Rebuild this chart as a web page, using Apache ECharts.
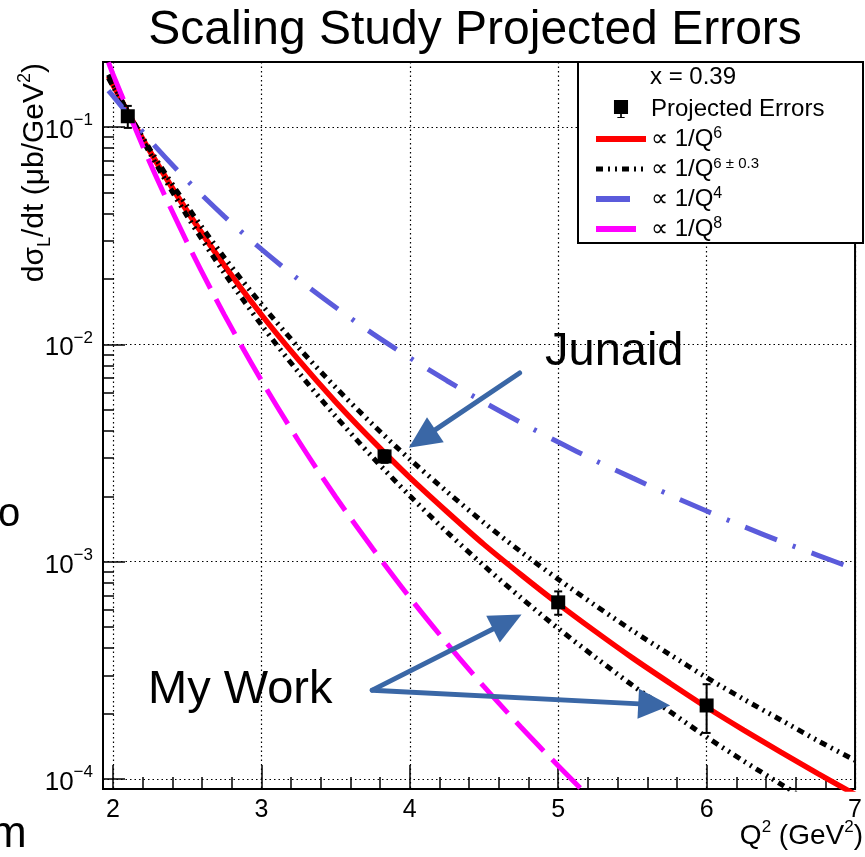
<!DOCTYPE html>
<html>
<head>
<meta charset="utf-8">
<script src="https://cdn.jsdelivr.net/npm/echarts@6/dist/echarts.min.js"></script>
<style>
html,body{margin:0;padding:0;background:#fff;overflow:hidden}
#c{width:865px;height:857px}
</style>
</head>
<body>
<div id="c"></div>
<script>
// ---------- data ----------
const qGrid   = [1.97, 2.0, 2.25, 2.5, 2.75, 3.0, 3.25, 3.5, 3.75, 4.0, 4.25, 4.5, 4.75, 5.0, 5.25, 5.5, 5.75, 6.0, 6.25, 6.5, 6.75, 7.0];
const fitQ6   = [0.171, 0.156, 0.0771, 0.0410, 0.0231, 0.0137, 0.00849, 0.00544, 0.00360, 0.00244, 0.00170, 0.00120, 0.000871, 0.000640, 0.000478, 0.000361, 0.000277, 0.000214, 0.000168, 0.000133, 0.000106, 0.0000850];
const fitQ6Hi = [0.168, 0.154, 0.0787, 0.0432, 0.0251, 0.0153, 0.00967, 0.00634, 0.00428, 0.00296, 0.00210, 0.00151, 0.00111, 0.000830, 0.000629, 0.000482, 0.000375, 0.000293, 0.000233, 0.000187, 0.000150, 0.000122];
const fitQ6Lo = [0.174, 0.158, 0.0755, 0.0389, 0.0213, 0.0123, 0.00744, 0.00467, 0.00302, 0.00201, 0.00137, 0.000958, 0.000682, 0.000493, 0.000363, 0.000270, 0.000205, 0.000156, 0.000121, 0.0000948, 0.0000747, 0.0000592];
const fitQ4   = [0.147, 0.139, 0.0866, 0.0568, 0.0388, 0.0274, 0.0199, 0.0148, 0.0112, 0.00867, 0.00680, 0.00541, 0.00436, 0.00355, 0.00292, 0.00243, 0.00203, 0.00171, 0.00145, 0.00124, 0.00107, 0.000925];
const fitQ8   = [0.198, 0.175, 0.0682, 0.0294, 0.0137, 0.00683, 0.00360, 0.00199, 0.00115, 0.000684, 0.000421, 0.000266, 0.000173, 0.000115, 0.0000776, null, null, null, null, null, null, null];

const projQ2  = [2.1, 3.83, 5.0, 6.0];
const projXS  = [0.112, 0.00305, 0.00065, 0.000218];
const projErr = [0.013, 0.0002, 0.00008, 0.000055];

const xMajorTicks = [2, 3, 4, 5, 6, 7];
const yMajorTicks = [1e-4, 1e-3, 1e-2, 1e-1];

// annotation arrows (data coordinates): [tail, head]
const arrowJunaid = [[4.74, 7.38e-3], [4.083, 3.68e-3]];
const arrowMyWork1 = [[3.747, 2.565e-4], [4.657, 5.29e-4]];
const arrowMyWork2 = [[3.747, 2.565e-4], [5.647, 2.20e-4]];

// ---------- helpers ----------
const xMinorTicks = [];
for (let i = 0; i <= 25; i++) { const v = +(2 + 0.2 * i).toFixed(1); if (Math.abs(v - Math.round(v)) > 1e-6) xMinorTicks.push(v); }
const yMinorTicks = [];
for (let e = -4; e <= -2; e++) for (let m = 2; m <= 9; m++) yMinorTicks.push(+(m * Math.pow(10, e)).toPrecision(3));

const pairs = (xs, ys) => xs.map((x, i) => [x, ys[i]]);
const FONT = '"Liberation Sans", Arial, Helvetica, sans-serif';
const XMIN = 1.933, XMAX = 7.0, YMIN = 9.0e-5, YMAX = 0.199;

const RED = '#ff0000', BLUE = '#5b5bdb', MAG = '#ff00ff';
const DASH_BLK = [7, 5, 2, 5, 2, 5], DASH_BLUE = [34, 17, 3, 17], DASH_MAG = [40, 12];

const legendNames = {
  'Projected Errors': 'Projected Errors',
  'q6': '∝ 1/Q{sup|6}',
  'q6pm': '∝ 1/Q{sm|6 ± 0.3}',
  'q4': '∝ 1/Q{sup|4}',
  'q8': '∝ 1/Q{sup|8}'
};

const chart = echarts.init(document.getElementById('c'), null, {renderer: 'canvas'});

const arrowLine = (a) => [{coord: a[0], symbol: 'none'}, {coord: a[1], symbol: 'triangle', symbolSize: [30, 32]}];

const option = {
  animation: false,
  backgroundColor: '#fff',
  grid: {left: 103, right: 2, top: 62, bottom: 68, show: true, borderColor: '#000', borderWidth: 2, backgroundColor: 'transparent'},
  legend: {
    orient: 'vertical', left: 588, top: 91, z: 20,
    itemWidth: 50, itemHeight: 18, itemGap: 4,
    itemStyle: {opacity: 0},
    data: [
      {name: 'Projected Errors', icon: 'path://M0,0H10V10H5.6V12H7.6V12.8H2.4V12H4.4V10H0Z', itemStyle: {opacity: 1, color: '#000'}},
      {name: 'q6', lineStyle: {width: 6, color: RED}},
      {name: 'q6pm', lineStyle: {width: 5, color: '#000', type: DASH_BLK}},
      {name: 'q4', lineStyle: {width: 6, color: BLUE, type: DASH_BLUE}},
      {name: 'q8', lineStyle: {width: 6, color: MAG, type: DASH_MAG}}
    ],
    formatter: (n) => legendNames[n],
    selectedMode: false,
    textStyle: {
      fontFamily: FONT, fontSize: 24, color: '#000', lineHeight: 26, padding: [0, 0, 0, 0],
      rich: {
        sup: {fontFamily: FONT, fontSize: 16, lineHeight: 16, verticalAlign: 'top', color: '#000'},
        sm: {fontFamily: FONT, fontSize: 15, lineHeight: 15, verticalAlign: 'top', color: '#000'}
      }
    }
  },
  xAxis: [
    {
      type: 'value', min: XMIN, max: XMAX, position: 'bottom',
      axisLine: {show: true, onZero: false, lineStyle: {color: '#000', width: 2}},
      axisTick: {show: true, inside: true, length: 24, customValues: xMajorTicks, lineStyle: {color: '#000', width: 1.5}},
      axisLabel: {customValues: xMajorTicks, margin: 9, fontFamily: FONT, fontSize: 25, color: '#000'},
      splitLine: {show: true, lineStyle: {color: '#000', width: 1.2, type: [1.5, 3]}}
    },
    {
      type: 'value', min: XMIN, max: XMAX, position: 'bottom',
      axisLine: {show: false},
      axisTick: {show: true, inside: true, length: 12, customValues: xMinorTicks, lineStyle: {color: '#000', width: 1.5}},
      axisLabel: {show: false},
      splitLine: {show: false}
    }
  ],
  yAxis: [
    {
      type: 'log', logBase: 10, min: YMIN, max: YMAX, position: 'left',
      axisLine: {show: true, onZero: false, lineStyle: {color: '#000', width: 2}},
      axisTick: {show: true, inside: true, length: 22, customValues: yMajorTicks, lineStyle: {color: '#000', width: 1.5}},
      axisLabel: {
        customValues: yMajorTicks, margin: 10, color: '#000',
        formatter: (v) => '{b|10}{e|' + String(Math.round(Math.log10(v))).replace('-', '−') + '}',
        rich: {
          b: {fontFamily: FONT, fontSize: 26, lineHeight: 30, color: '#000', padding: [8, 0, 0, 0]},
          e: {fontFamily: FONT, fontSize: 17, lineHeight: 17, verticalAlign: 'top', color: '#000'}
        }
      },
      splitLine: {show: true, lineStyle: {color: '#000', width: 1.2, type: [1.5, 3]}},
      minorTick: {show: false}
    },
    {
      type: 'log', logBase: 10, min: YMIN, max: YMAX, position: 'left',
      axisLine: {show: false},
      axisTick: {show: true, inside: true, length: 11, customValues: yMinorTicks, lineStyle: {color: '#000', width: 1.5}},
      axisLabel: {show: false},
      splitLine: {show: false}
    }
  ],
  series: [
    {
      name: 'q6', type: 'line', z: 2, data: pairs(qGrid, fitQ6), showSymbol: false, symbol: 'none', smooth: 0.3, clip: true,
      lineStyle: {color: RED, width: 5.5}, itemStyle: {color: RED}
    },
    {
      name: 'q6pm', type: 'line', z: 3, data: pairs(qGrid, fitQ6Hi), showSymbol: false, symbol: 'none', smooth: 0.3, clip: true,
      lineStyle: {color: '#000', width: 5, type: DASH_BLK, cap: 'butt'}, itemStyle: {color: '#000'}
    },
    {
      name: 'q6pm', type: 'line', z: 3, data: pairs(qGrid, fitQ6Lo), showSymbol: false, symbol: 'none', smooth: 0.3, clip: true,
      lineStyle: {color: '#000', width: 5, type: DASH_BLK, cap: 'butt'}, itemStyle: {color: '#000'}
    },
    {
      name: 'q4', type: 'line', z: 4, data: pairs(qGrid, fitQ4), showSymbol: false, symbol: 'none', smooth: 0.3, clip: true,
      lineStyle: {color: BLUE, width: 5, type: DASH_BLUE, cap: 'butt'}, itemStyle: {color: BLUE}
    },
    {
      name: 'q8', type: 'line', z: 5, data: pairs(qGrid, fitQ8), showSymbol: false, symbol: 'none', smooth: 0.3, clip: true, connectNulls: false,
      lineStyle: {color: MAG, width: 5, type: DASH_MAG, cap: 'butt'}, itemStyle: {color: MAG}
    },
    {
      name: 'errbars', type: 'custom', z: 6, clip: true,
      data: projQ2.map((q, i) => [q, projXS[i], projErr[i]]),
      encode: {x: 0, y: 1},
      renderItem: (params, api) => {
        const x = api.value(0), y = api.value(1), e = api.value(2);
        const p0 = api.coord([x, y + e]), p1 = api.coord([x, y - e]);
        const cw = 4, st = {stroke: '#000', lineWidth: 2};
        return {type: 'group', children: [
          {type: 'line', shape: {x1: p0[0], y1: p0[1], x2: p1[0], y2: p1[1]}, style: st},
          {type: 'line', shape: {x1: p0[0] - cw, y1: p0[1], x2: p0[0] + cw, y2: p0[1]}, style: st},
          {type: 'line', shape: {x1: p1[0] - cw, y1: p1[1], x2: p1[0] + cw, y2: p1[1]}, style: st}
        ]};
      }
    },
    {
      name: 'Projected Errors', type: 'scatter', z: 7, data: pairs(projQ2, projXS),
      symbol: 'rect', symbolSize: 14, itemStyle: {color: '#000', opacity: 1}
    },
    {
      name: 'arrows', type: 'line', z: 30, data: [], silent: true,
      markLine: {
        silent: true, animation: false, z: 30,
        label: {show: false},
        emphasis: {disabled: true},
        lineStyle: {color: '#3a67a6', width: 5, type: 'solid', cap: 'round'},
        data: [arrowLine(arrowJunaid), arrowLine(arrowMyWork1), arrowLine(arrowMyWork2)]
      }
    }
  ],
  graphic: [
    {type: 'rect', z: 10, shape: {x: 578, y: 62, width: 285, height: 181}, style: {fill: '#fff', stroke: '#000', lineWidth: 2}},
    {type: 'text', z: 11, x: 650, y: 77, style: {text: 'x = 0.39', fontFamily: FONT, fontSize: 24, fill: '#000', verticalAlign: 'middle'}},
    {type: 'text', z: 11, x: 475, y: 31, style: {text: 'Scaling Study Projected Errors', fontFamily: FONT, fontSize: 48, fill: '#000', align: 'center', verticalAlign: 'middle'}},
    {type: 'text', z: 11, x: 35, y: 63, rotation: Math.PI / 2,
      style: {text: '{t|dσ}{sub|L}{t|/dt (μb/GeV}{sup|2}{t|)}', align: 'right', verticalAlign: 'middle',
        rich: {
          t: {fontFamily: FONT, fontSize: 30, lineHeight: 38, color: '#000'},
          sub: {fontFamily: FONT, fontSize: 18, lineHeight: 18, verticalAlign: 'bottom', color: '#000'},
          sup: {fontFamily: FONT, fontSize: 18, lineHeight: 18, verticalAlign: 'top', color: '#000'}
        }}},
    {type: 'text', z: 11, x: 863, y: 836,
      style: {text: '{t|Q}{sup|2}{t| (GeV}{sup|2}{t|)}', align: 'right', verticalAlign: 'middle',
        rich: {
          t: {fontFamily: FONT, fontSize: 28, lineHeight: 34, color: '#000'},
          sup: {fontFamily: FONT, fontSize: 17, lineHeight: 17, verticalAlign: 'top', color: '#000'}
        }}},
    {type: 'text', z: 40, x: 545, y: 352, style: {text: 'Junaid', fontFamily: FONT, fontSize: 47, fill: '#000', verticalAlign: 'middle'}},
    {type: 'text', z: 40, x: 148, y: 690, style: {text: 'My Work', fontFamily: FONT, fontSize: 47, fill: '#000', verticalAlign: 'middle'}},
    {type: 'text', z: 40, x: -2, y: 515, style: {text: 'o', fontFamily: FONT, fontSize: 40, fill: '#000', verticalAlign: 'middle'}},
    {type: 'text', z: 40, x: -10, y: 835, style: {text: 'm', fontFamily: FONT, fontSize: 44, fill: '#000', verticalAlign: 'middle'}}
  ]
};

chart.setOption(option);
</script>
</body>
</html>
